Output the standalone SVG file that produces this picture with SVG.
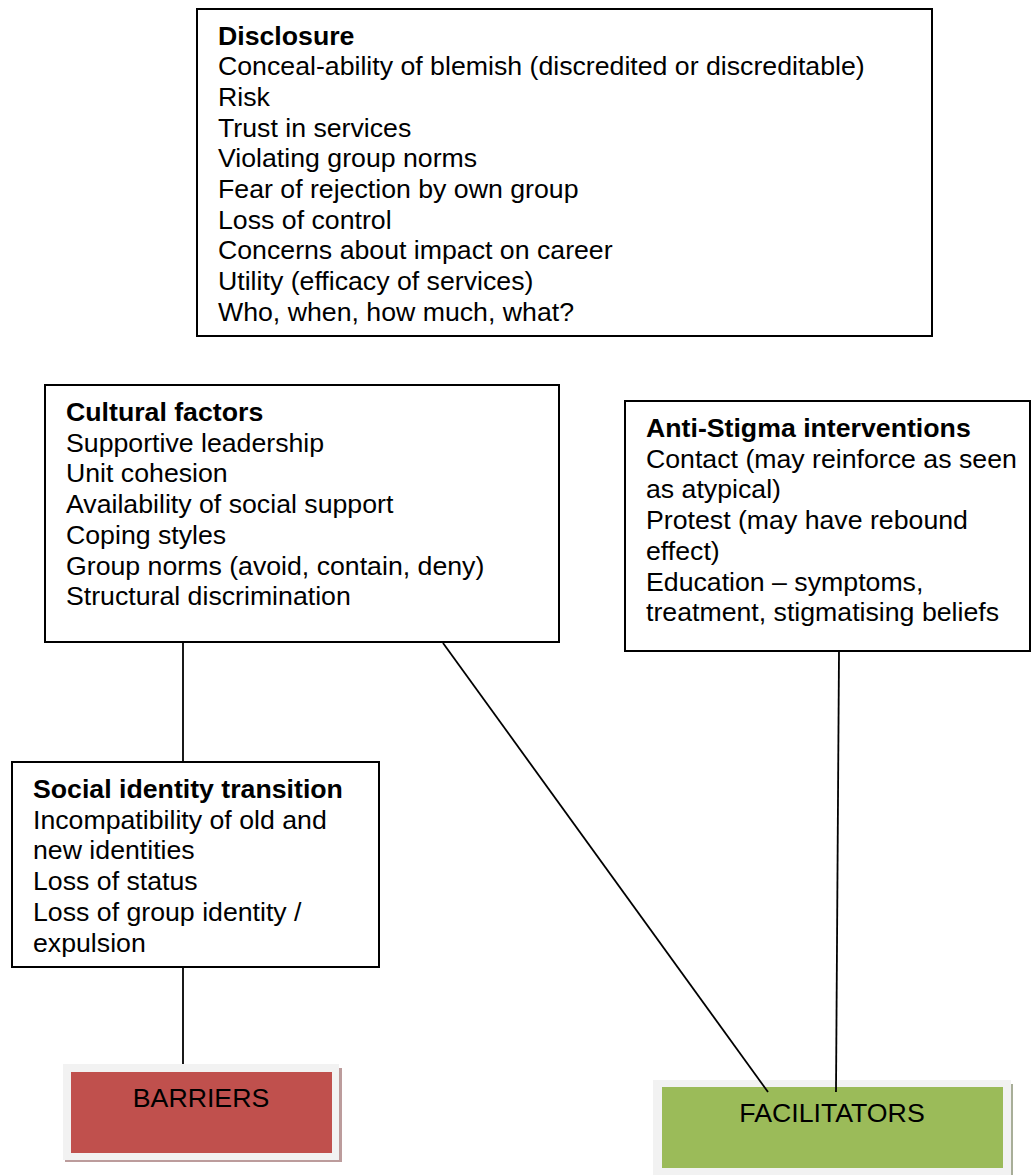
<svg xmlns="http://www.w3.org/2000/svg" width="1032" height="1175" viewBox="0 0 1032 1175">
<style>
.box{fill:#fff;stroke:#000;stroke-width:2}
.t{font-family:"Liberation Sans",Arial,sans-serif;font-size:26.7px;fill:#000}
.b{font-weight:bold}
.conn line{stroke:#000;stroke-width:1.8}
</style>
<rect width="1032" height="1175" fill="#fff"/>
<g id="disclosure">
<rect class="box" x="197" y="9" width="735" height="327"/>
<text class="t" x="218" y="44.5"><tspan class="b">Disclosure</tspan><tspan x="218" dy="30.7">Conceal-ability of blemish (discredited or discreditable)</tspan><tspan x="218" dy="30.7">Risk</tspan><tspan x="218" dy="30.7">Trust in services</tspan><tspan x="218" dy="30.7">Violating group norms</tspan><tspan x="218" dy="30.7">Fear of rejection by own group</tspan><tspan x="218" dy="30.7">Loss of control</tspan><tspan x="218" dy="30.7">Concerns about impact on career</tspan><tspan x="218" dy="30.7">Utility (efficacy of services)</tspan><tspan x="218" dy="30.7">Who, when, how much, what?</tspan></text>
</g>
<g id="cultural">
<rect class="box" x="45" y="385" width="514" height="257"/>
<text class="t" x="66" y="421"><tspan class="b">Cultural factors</tspan><tspan x="66" dy="30.7">Supportive leadership</tspan><tspan x="66" dy="30.7">Unit cohesion</tspan><tspan x="66" dy="30.7">Availability of social support</tspan><tspan x="66" dy="30.7">Coping styles</tspan><tspan x="66" dy="30.7">Group norms (avoid, contain, deny)</tspan><tspan x="66" dy="30.7">Structural discrimination</tspan></text>
</g>
<g id="antistigma">
<rect class="box" x="625" y="401" width="405" height="250"/>
<text class="t" x="646" y="437"><tspan class="b">Anti-Stigma interventions</tspan><tspan x="646" dy="30.7">Contact (may reinforce as seen</tspan><tspan x="646" dy="30.7">as atypical)</tspan><tspan x="646" dy="30.7">Protest (may have rebound</tspan><tspan x="646" dy="30.7">effect)</tspan><tspan x="646" dy="30.7">Education – symptoms,</tspan><tspan x="646" dy="30.7">treatment, stigmatising beliefs</tspan></text>
</g>
<g id="social">
<rect class="box" x="12" y="762" width="367" height="205"/>
<text class="t" x="33" y="798"><tspan class="b">Social identity transition</tspan><tspan x="33" dy="30.7">Incompatibility of old and</tspan><tspan x="33" dy="30.7">new identities</tspan><tspan x="33" dy="30.7">Loss of status</tspan><tspan x="33" dy="30.7">Loss of group identity /</tspan><tspan x="33" dy="30.7">expulsion</tspan></text>
</g>
<g id="barriers">
<rect x="65" y="1068" width="277" height="94" fill="#bc9c9c"/>
<rect x="63" y="1064" width="276" height="96" fill="#f2f2f2"/>
<rect x="71" y="1072" width="261" height="81" fill="#c0504d"/>
<text class="t" x="201" y="1106.5" text-anchor="middle">BARRIERS</text>
</g>
<g id="facilitators">
<rect x="655" y="1084" width="358" height="95" fill="#a8ae98"/>
<rect x="653" y="1080" width="358" height="95" fill="#f2f2f2"/>
<rect x="662" y="1087" width="341" height="81" fill="#9bbb59"/>
<text class="t" x="832" y="1121.5" text-anchor="middle">FACILITATORS</text>
</g>
<g id="connectors" class="conn">
<line x1="183" y1="643" x2="183" y2="761"/>
<line x1="183" y1="968" x2="183" y2="1064"/>
<line x1="443" y1="643" x2="768" y2="1092"/>
<line x1="839" y1="652" x2="836" y2="1092"/>
</g>
</svg>
